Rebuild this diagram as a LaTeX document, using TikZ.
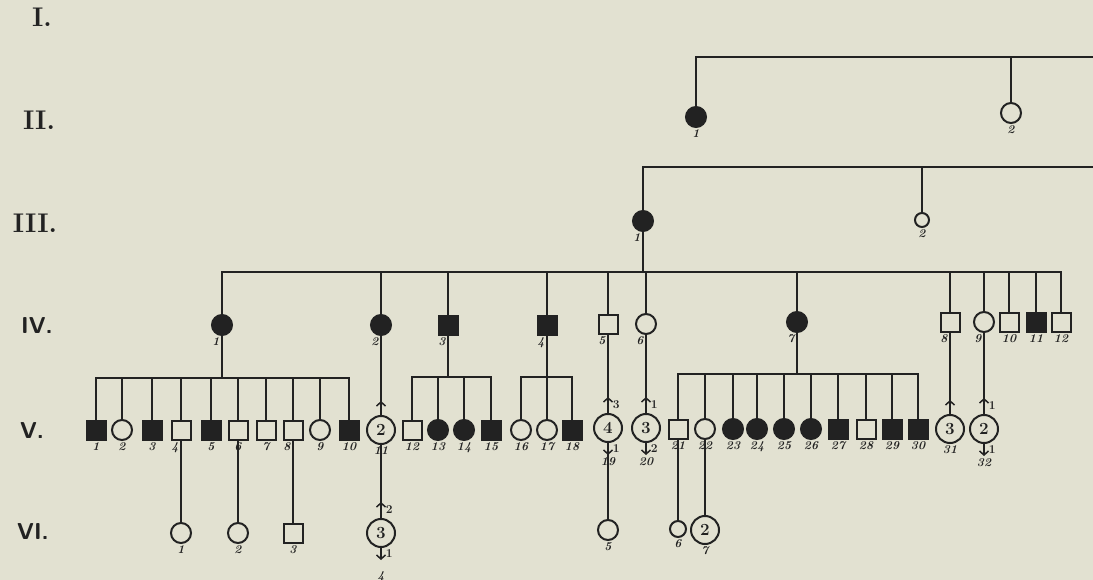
\documentclass[tikz,border=0pt]{standalone}
\usepackage{xcolor}
\usetikzlibrary{arrows.meta}
\definecolor{paper}{HTML}{E2E1D1}
\definecolor{ink}{HTML}{222222}

\begin{document}
\begin{tikzpicture}[x=1pt, y=-1pt, color=ink, line width=1.5pt,
    fem/.style={circle, draw, line width=2pt, minimum size=20pt, inner sep=0pt},
    mal/.style={rectangle, draw, line width=2pt, minimum size=19pt, inner sep=0pt},
    aff/.style={fill=ink},
    grp/.style={circle, draw, line width=2pt, minimum size=28pt, inner sep=0pt, font=\fontsize{17}{17}\selectfont\bfseries},
    lab/.style={font=\fontsize{12}{12}\selectfont\bfseries\itshape, inner sep=1pt},
    lbc/.style={label={[lab]below:#1}},
    lbl/.style={label={[lab,xshift=-6pt]below:#1}},
    lbf/.style={label={[lab,label distance=13pt]below:#1}},
    num/.style={font=\fontsize{12}{12}\selectfont\bfseries, inner sep=1pt, right, xshift=3pt},
    tipline/.style={-{Straight Barb[length=4pt,width=9pt]}},
    gen/.style={font=\fontsize{27}{27}\selectfont\bfseries},
    gens/.style={font=\fontsize{23}{23}\selectfont\sffamily\bfseries}]

\fill[paper] (0,0) rectangle (1093,580);
\useasboundingbox (0,0) rectangle (1093,580);

\node[gen] (gI) at (42,17) {I.};
\node[gen] (gII) at (39,120) {II.};
\node[gen] (gIII) at (35,223) {III.};
\node[gens] (gIV) at (37,326) {IV.};
\node[gens] (gV) at (32,431) {V.};
\node[gens] (gVI) at (33,532) {VI.};

% II
\coordinate (iEnd) at (1093,57);
\node[fem,aff,lbc=1] (ii1) at (696,117) {};
\node[fem,lbc=2] (ii2) at (1011,113) {};
\draw (ii1) |- (iEnd);
\draw (ii2) -- (ii2 |- iEnd);

% III
\coordinate (iiEnd) at (1093,167);
\node[fem,aff,lbl=1] (iii1) at (643,221) {};
\node[fem,minimum size=14pt,lbc=2] (iii2) at (922,220) {};
\draw (iii1) |- (iiEnd);
\draw (iii2) -- (iii2 |- iiEnd);

% IV
\coordinate (ivS) at (0,272);
\node[fem,aff,lbl=1] (iv1) at (222,325) {};
\node[fem,aff,lbl=2] (iv2) at (381,325) {};
\node[mal,aff,lbl=3] (iv3) at (448,325) {};
\node[mal,aff,lbl=4] (iv4) at (547,325) {};
\node[mal,lbl=5] (iv5) at (608,324) {};
\node[fem,lbl=6] (iv6) at (646,324) {};
\node[fem,aff,lbl=7] (iv7) at (797,322) {};
\node[mal,lbl=8] (iv8) at (950,322) {};
\node[fem,lbl=9] (iv9) at (984,322) {};
\node[mal,lbc=10] (iv10) at (1009,322) {};
\node[mal,aff,lbc=11] (iv11) at (1036,322) {};
\node[mal,lbc=12] (iv12) at (1061,322) {};
\draw (iii1) -- (iii1 |- ivS);
\draw (iv1) |- (iv12 |- ivS) -- (iv12);
\foreach \k in {iv2,iv3,iv4,iv5,iv6,iv7,iv8,iv9,iv10,iv11}
  \draw (\k) -- (\k |- ivS);

% V
\coordinate (vS1) at (0,378);
\node[mal,aff,lbc=1] (v1) at (96,430) {};
\node[fem,lbc=2] (v2) at (122,430) {};
\node[mal,aff,lbc=3] (v3) at (152,430) {};
\node[mal,lbl=4] (v4) at (181,430) {};
\node[mal,aff,lbc=5] (v5) at (211,430) {};
\node[mal,lbc=6] (v6) at (238,430) {};
\node[mal,lbc=7] (v7) at (266,430) {};
\node[mal,lbl=8] (v8) at (293,430) {};
\node[fem,lbc=9] (v9) at (320,430) {};
\node[mal,aff,lbc=10] (v10) at (349,430) {};
\draw (iv1) -- (iv1 |- vS1);
\draw (v1) |- (v10 |- vS1) -- (v10);
\foreach \k in {v2,v3,v4,v5,v6,v7,v8,v9}
  \draw (\k) -- (\k |- vS1);

\node[grp,lbc=11] (v11) at (381,430) {2};
\draw (iv2) -- (v11);
\draw[tipline] (v11.north) -- ++(0,-14);

\coordinate (vS3) at (0,377);
\node[mal,lbc=12] (v12) at (412,430) {};
\node[fem,aff,lbc=13] (v13) at (438,430) {};
\node[fem,aff,lbc=14] (v14) at (464,430) {};
\node[mal,aff,lbc=15] (v15) at (491,430) {};
\draw (iv3) -- (iv3 |- vS3);
\draw (v12) |- (v15 |- vS3) -- (v15);
\foreach \k in {v13,v14}
  \draw (\k) -- (\k |- vS3);

\node[fem,lbc=16] (v16) at (521,430) {};
\node[fem,lbc=17] (v17) at (547,430) {};
\node[mal,aff,lbc=18] (v18) at (572,430) {};
\draw (v16) |- (v18 |- vS3) -- (v18);
\draw (iv4) -- (v17);

\node[grp,lbf=19] (v19) at (608,428) {4};
\draw (iv5) -- (v19);
\draw[tipline] (v19.north) -- ++(0,-16) node[num,pos=0.5] {3};
\draw[tipline] (v19.south) -- ++(0,12) node[num,pos=0.5] {1};

\node[grp,lbf=20] (v20) at (646,428) {3};
\draw (iv6) -- (v20);
\draw[tipline] (v20.north) -- ++(0,-16) node[num,pos=0.5] {1};
\draw[tipline] (v20.south) -- ++(0,12) node[num,pos=0.5] {2};

\coordinate (vS7) at (0,374);
\node[mal,lbc=21] (v21) at (678,429) {};
\node[fem,lbc=22] (v22) at (705,429) {};
\node[fem,aff,lbc=23] (v23) at (733,429) {};
\node[fem,aff,lbc=24] (v24) at (757,429) {};
\node[fem,aff,lbc=25] (v25) at (784,429) {};
\node[fem,aff,lbc=26] (v26) at (811,429) {};
\node[mal,aff,lbc=27] (v27) at (838,429) {};
\node[mal,lbc=28] (v28) at (866,429) {};
\node[mal,aff,lbc=29] (v29) at (892,429) {};
\node[mal,aff,lbc=30] (v30) at (918,429) {};
\draw (iv7) -- (iv7 |- vS7);
\draw (v21) |- (v30 |- vS7) -- (v30);
\foreach \k in {v22,v23,v24,v25,v26,v27,v28,v29}
  \draw (\k) -- (\k |- vS7);

\node[grp,lbc=31] (v31) at (950,429) {3};
\draw (iv8) -- (v31);
\draw[tipline] (v31.north) -- ++(0,-14);

\node[grp,lbf=32] (v32) at (984,429) {2};
\draw (iv9) -- (v32);
\draw[tipline] (v32.north) -- ++(0,-16) node[num,pos=0.5] {1};
\draw[tipline] (v32.south) -- ++(0,12) node[num,pos=0.5] {1};

% VI
\node[fem,lbc=1] (vi1) at (181,533) {};
\node[fem,lbc=2] (vi2) at (238,533) {};
\node[mal,lbc=3] (vi3) at (293,533) {};
\draw (v4) -- (vi1);
\draw (v6) -- (vi2);
\draw (v8) -- (vi3);

\node[grp,label={[lab,label distance=22pt]below:4}] (vi4) at (381,533) {3};
\draw (v11) -- (vi4);
\draw[tipline] (vi4.north) -- ++(0,-16) node[num,pos=0.5] {2};
\draw[tipline] (vi4.south) -- ++(0,12) node[num,pos=0.5] {1};

\node[fem,lbc=5] (vi5) at (608,530) {};
\draw (v19) -- (vi5);
\node[fem,minimum size=16pt,lbc=6] (vi6) at (678,529) {};
\node[grp,lbc=7] (vi7) at (705,530) {2};
\draw (v21) -- (vi6);
\draw (v22) -- (vi7);

\end{tikzpicture}
\end{document}
